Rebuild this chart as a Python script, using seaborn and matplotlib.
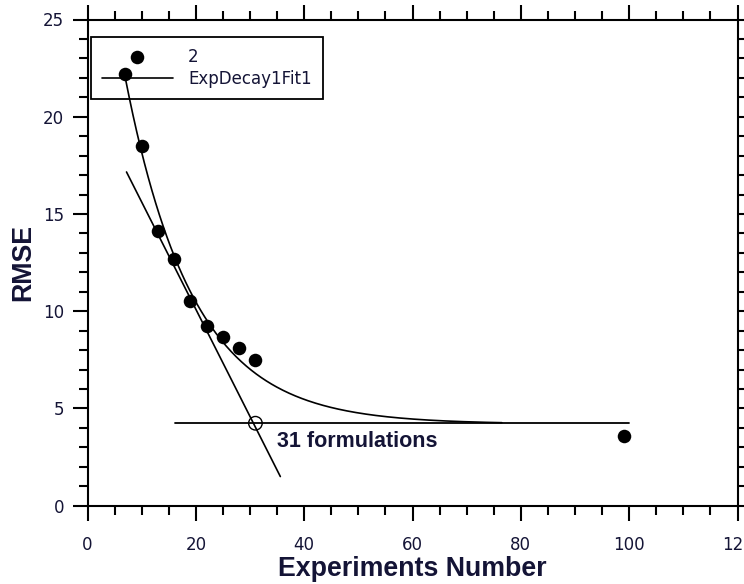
import numpy as np
import pandas as pd
import matplotlib
matplotlib.use("Agg")
import matplotlib.pyplot as plt
from matplotlib.ticker import MultipleLocator
import seaborn as sns

# Measured RMSE against number of experiments
experiments = [7, 10, 13, 16, 19, 22, 25, 28, 31, 99]
rmse = [22.2, 18.5, 14.1, 12.7, 10.5, 9.25, 8.7, 8.1, 7.5, 3.6]

# ExpDecay1 fit parameters: y = y0 + A * exp(-x / t)
fit_y0 = 4.2
fit_A = 31.1
fit_t = 12.5
fit_range = [7, 76.5]

# Tangent through the early points and the plateau level
tangent_x = [7.2, 35.6]
tangent_y = [17.16, 1.5]
plateau_x = [16.2, 100]
plateau_y = [4.24, 4.24]

# Crossing of tangent and plateau
cross_x = [31]
cross_y = [4.24]
cross_label = "31 formulations"

sns.set_style("ticks")
plt.rcParams["font.family"] = ["DejaVu Sans"]

text_col = "#141436"

fig = plt.figure(figsize=(7.44, 5.84), dpi=100)
ax = fig.add_axes([87.5 / 744, 1 - 505.7 / 584, 650 / 744, (505.7 - 19.5) / 584])

pts = pd.DataFrame({"Experiments": experiments, "RMSE": rmse})
sns.scatterplot(data=pts, x="Experiments", y="RMSE", ax=ax, color="black",
                s=95, edgecolor="black", linewidth=0, label="2", zorder=4)

xf = np.linspace(fit_range[0], fit_range[1], 300)
fit = pd.DataFrame({"x": xf, "y": fit_y0 + fit_A * np.exp(-xf / fit_t)})
sns.lineplot(data=fit, x="x", y="y", ax=ax, color="black", linewidth=1.2,
             label="ExpDecay1Fit1", zorder=3)

sns.lineplot(x=tangent_x, y=tangent_y, ax=ax, color="black", linewidth=1.2,
             legend=False, zorder=3)
sns.lineplot(x=plateau_x, y=plateau_y, ax=ax, color="black", linewidth=1.3,
             legend=False, zorder=3)
ax.scatter(cross_x, cross_y, s=95, facecolor="none", edgecolor="black",
           linewidth=1.0, zorder=5)
ax.text(34.9, 3.28, cross_label, fontsize=15.5, fontweight="bold",
        family="Liberation Sans", color=text_col, va="center", ha="left")

ax.set_xlim(0, 120)
ax.set_ylim(0, 25)
ax.xaxis.set_major_locator(MultipleLocator(20))
ax.xaxis.set_minor_locator(MultipleLocator(5))
ax.yaxis.set_major_locator(MultipleLocator(5))
ax.yaxis.set_minor_locator(MultipleLocator(1))
ax.tick_params(which="both", direction="out", top=True, right=True,
               labeltop=False, labelright=False, width=1.5, color="black")
ax.tick_params(which="major", length=11, labelsize=12, labelcolor=text_col, pad=6)
ax.tick_params(which="minor", length=6.5)
ax.tick_params(axis="x", which="major", pad=11)
for sp in ax.spines.values():
    sp.set_visible(True)
    sp.set_linewidth(1.5)
    sp.set_color("black")

ax.set_xlabel("Experiments Number", fontsize=19.3, fontweight="bold",
              family="Liberation Sans", color=text_col, labelpad=1)
ax.set_ylabel("RMSE", fontsize=19.3, fontweight="bold",
              family="Liberation Sans", color=text_col, labelpad=5)

leg = ax.legend(loc="upper left", bbox_to_anchor=(90.7 / 744, 1 - 36.7 / 584),
                bbox_transform=fig.transFigure, borderaxespad=0, fontsize=12,
                frameon=True, fancybox=False, handlelength=4.3,
                handletextpad=0.9, borderpad=0.65, labelspacing=0.27,
                markerscale=1.0)
leg.set_zorder(2.5)
leg.get_frame().set_edgecolor("black")
leg.get_frame().set_linewidth(1.3)
leg.get_frame().set_facecolor("white")
leg.get_frame().set_alpha(1.0)
for t in leg.get_texts():
    t.set_color(text_col)

fig.savefig("out.png", dpi=100)
